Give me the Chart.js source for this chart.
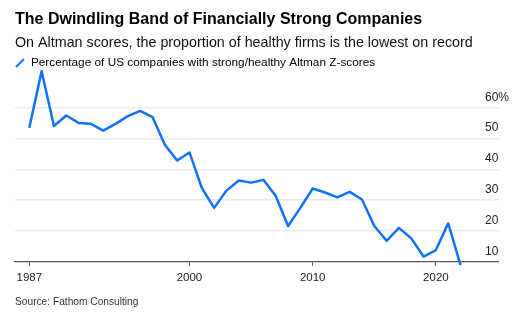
<!DOCTYPE html>
<html>
<head>
<meta charset="utf-8">
<script src="https://cdn.jsdelivr.net/npm/chart.js@4"></script>
<style>
  html, body { margin: 0; padding: 0; background: #fff; }
  #chart { display: block; }
</style>
</head>
<body>
<canvas id="chart" width="531" height="327"></canvas>
<script>
// share of US firms with strong/healthy Altman Z-scores, yearly
const years = [1987, 1988, 1989, 1990, 1991, 1992, 1993, 1994, 1995, 1996, 1997, 1998,
  1999, 2000, 2001, 2002, 2003, 2004, 2005, 2006, 2007, 2008, 2009, 2010,
  2011, 2012, 2013, 2014, 2015, 2016, 2017, 2018, 2019, 2020, 2021, 2022];
const healthyPct = [53.5, 71.9, 54.1, 57.5, 55.1, 54.8, 52.6, 54.8, 57.3, 59.0, 57.0, 48.0,
  42.9, 45.5, 34.0, 27.5, 33.1, 36.4, 35.7, 36.6, 31.4, 21.6, 27.5, 33.8,
  32.5, 30.9, 32.7, 30.2, 21.6, 16.8, 21.0, 17.6, 11.7, 13.8, 22.5, 8.9];
const xTicks = [1987, 2000, 2010, 2020];
const yTicks = [10, 20, 30, 40, 50, 60];

const blue = '#1170ff';
const fontFamily = '"Liberation Sans", Arial, Helvetica, sans-serif';
Chart.defaults.font.family = fontFamily;

const ctx = document.getElementById('chart').getContext('2d');
new Chart(ctx, {
  type: 'line',
  data: {
    datasets: [{
      label: 'Percentage of US companies with strong/healthy Altman Z-scores',
      data: years.map((y, i) => ({ x: y, y: healthyPct[i] })),
      borderColor: blue,
      borderWidth: 2.5,
      borderJoinStyle: 'round',
      tension: 0,
      pointRadius: 0,
      pointHoverRadius: 0,
      clip: false
    }]
  },
  options: {
    responsive: false,
    animation: false,
    devicePixelRatio: 1,
    layout: { padding: { left: 15, right: 11.5, top: 0, bottom: 0 } },
    plugins: {
      title: {
        display: true,
        text: 'The Dwindling Band of Financially Strong Companies',
        align: 'start',
        color: '#000',
        font: { size: 16, weight: 'bold', lineHeight: 1.2 },
        padding: { top: 10, bottom: 0 }
      },
      subtitle: {
        display: true,
        text: 'On Altman scores, the proportion of healthy firms is the lowest on record',
        align: 'start',
        color: '#111',
        font: { size: 14.3, lineHeight: 1.2 },
        padding: { top: 5.2, bottom: 5.5 }
      },
      legend: {
        display: true,
        position: 'top',
        align: 'start',
        labels: {
          color: '#222',
          font: { size: 11.8 },
          padding: 0,
          boxWidth: 10,
          boxHeight: 8,
          usePointStyle: true,
          generateLabels: (chart) => [{
            text: chart.data.datasets[0].label,
            pointStyle: 'line',
            rotation: -45,
            strokeStyle: blue,
            fillStyle: blue,
            lineWidth: 2,
            datasetIndex: 0
          }]
        }
      },
      tooltip: { enabled: false }
    },
    scales: {
      x: {
        type: 'linear',
        min: 1985.84,
        max: 2025.08,
        afterBuildTicks: (scale) => { scale.ticks = xTicks.map(v => ({ value: v })); },
        grid: {
          display: true,
          drawOnChartArea: false,
          drawTicks: true,
          tickLength: 4,
          color: '#555',
          lineWidth: 1
        },
        border: { display: true, color: '#555', width: 1.3 },
        ticks: {
          color: '#222',
          font: { size: 11.5 },
          padding: 5,
          maxRotation: 0,
          callback: (v) => String(v)
        },
        title: {
          display: true,
          text: 'Source: Fathom Consulting',
          align: 'start',
          color: '#333',
          font: { size: 10.2, lineHeight: 1.2 },
          padding: { top: 6.8, bottom: 18.4 }
        }
      },
      y: {
        position: 'right',
        min: 10,
        max: 69.4,
        afterBuildTicks: (scale) => { scale.ticks = yTicks.map(v => ({ value: v })); },
        grid: {
          display: true,
          drawTicks: false,
          lineWidth: 1.5,
          color: (c) => (c.tick && c.tick.value === 10) ? 'rgba(0,0,0,0)' : '#ebebeb'
        },
        border: { display: false },
        ticks: {
          mirror: true,
          crossAlign: 'far',
          padding: 10.5,
          labelOffset: -10.5,
          color: '#222',
          font: { size: 12 },
          callback: (v) => v === 60 ? '60%' : String(v)
        }
      }
    }
  }
});
</script>
</body>
</html>
